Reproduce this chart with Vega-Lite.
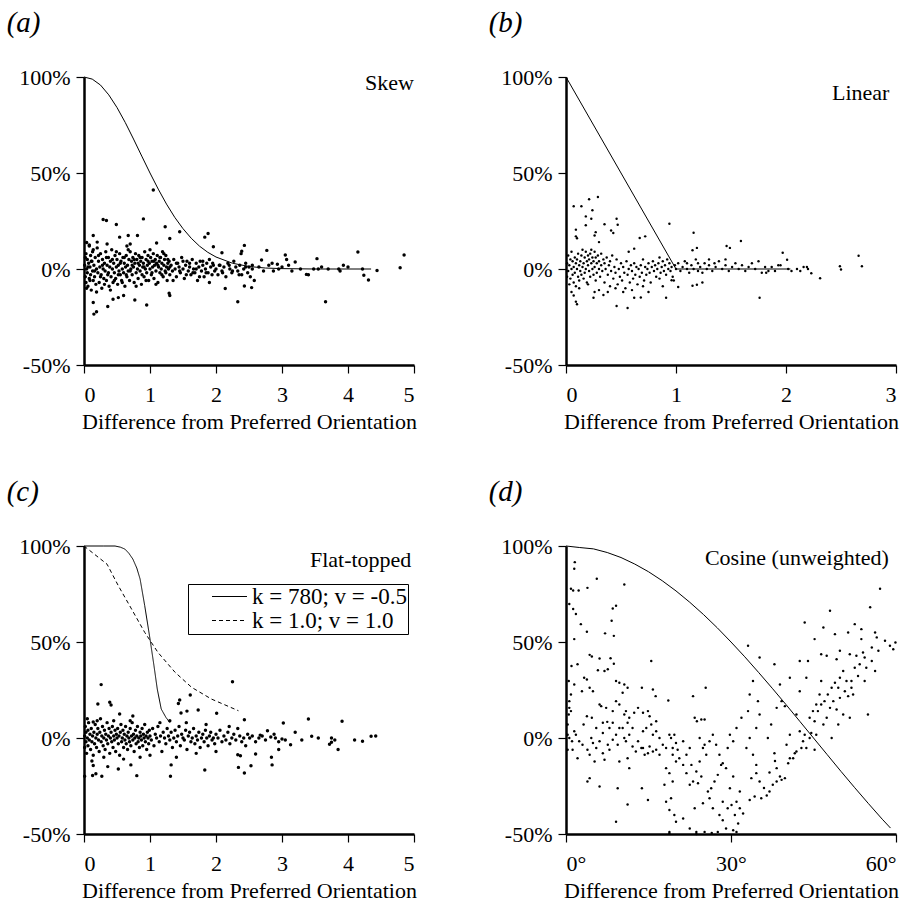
{
"$schema":"https://vega.github.io/schema/vega-lite/v6.json",
"background":"white",
"padding":{"left":6,"top":9,"right":5,"bottom":5},
"config":{
 "view":{"stroke":null},
 "font":"Liberation Serif",
 "axis":{"grid":false,"domainColor":"black","domainWidth":2.5,"tickColor":"black","tickSize":8,"tickWidth":1.2,"labelFont":"Liberation Serif","labelFontSize":22,"labelColor":"black","labelPadding":6,"titleFont":"Liberation Serif","titleFontSize":22,"titleFontWeight":"normal","titleColor":"black","titlePadding":10},
 "axisX":{"labelPadding":11,"titlePadding":6},
 "title":{"font":"Liberation Serif","fontSize":29,"fontStyle":"italic","fontWeight":"normal","anchor":"start","frame":"bounds","offset":28,"dx":-12,"color":"black"}
},
"datasets":{
"a":[{"x":0.01,"y":2},{"x":0.02,"y":-4},{"x":0.03,"y":8},{"x":0.03,"y":-7},{"x":0.04,"y":0},{"x":0.05,"y":5},{"x":0.05,"y":-2},{"x":0.06,"y":-9},{"x":0.07,"y":3},{"x":0.08,"y":-5},{"x":0.08,"y":12},{"x":0.09,"y":1},{"x":0.1,"y":-3},{"x":0.1,"y":7},{"x":0.11,"y":-11},{"x":0.12,"y":4},{"x":0.13,"y":-1},{"x":0.13,"y":9},{"x":0.14,"y":-6},{"x":0.15,"y":2},{"x":0.16,"y":-4},{"x":0.17,"y":6},{"x":0.18,"y":-8},{"x":0.19,"y":0},{"x":0.2,"y":11},{"x":0.21,"y":-2},{"x":0.22,"y":4},{"x":0.23,"y":-7},{"x":0.24,"y":1},{"x":0.25,"y":8},{"x":0.26,"y":-3},{"x":0.27,"y":-10},{"x":0.28,"y":5},{"x":0.29,"y":0},{"x":0.3,"y":-5},
{"x":0.31,"y":3},{"x":0.32,"y":-1},{"x":0.33,"y":9},{"x":0.34,"y":-6},{"x":0.35,"y":2},{"x":0.36,"y":-3},{"x":0.37,"y":6},{"x":0.38,"y":-9},{"x":0.39,"y":1},{"x":0.4,"y":4},{"x":0.41,"y":-4},{"x":0.42,"y":10},{"x":0.43,"y":0},{"x":0.44,"y":-7},{"x":0.45,"y":3},{"x":0.46,"y":-2},{"x":0.47,"y":7},{"x":0.48,"y":-5},{"x":0.49,"y":1},{"x":0.5,"y":5},{"x":0.51,"y":-8},{"x":0.52,"y":2},{"x":0.53,"y":-1},{"x":0.54,"y":8},{"x":0.55,"y":-3},{"x":0.56,"y":4},{"x":0.57,"y":-6},{"x":0.58,"y":0},{"x":0.59,"y":6},{"x":0.6,"y":-2},{"x":0.61,"y":3},{"x":0.62,"y":-9},{"x":0.63,"y":1},{"x":0.64,"y":7},{"x":0.65,"y":-4},{"x":0.66,"y":2},{"x":0.67,"y":-1},{"x":0.68,"y":5},{"x":0.69,"y":-6},{"x":0.7,"y":9},
{"x":0.71,"y":0},{"x":0.72,"y":4},{"x":0.73,"y":-3},{"x":0.74,"y":6},{"x":0.75,"y":1},{"x":0.76,"y":-7},{"x":0.77,"y":3},{"x":0.78,"y":8},{"x":0.79,"y":-2},{"x":0.8,"y":5},{"x":0.81,"y":0},{"x":0.82,"y":-5},{"x":0.83,"y":7},{"x":0.84,"y":2},{"x":0.85,"y":-1},{"x":0.86,"y":4},{"x":0.87,"y":-8},{"x":0.88,"y":6},{"x":0.89,"y":1},{"x":0.9,"y":3},{"x":0.91,"y":-4},{"x":0.92,"y":9},{"x":0.93,"y":0},{"x":0.94,"y":5},{"x":0.95,"y":-2},{"x":0.96,"y":2},{"x":0.97,"y":7},{"x":0.98,"y":-6},{"x":0.99,"y":3},{"x":1.0,"y":0},{"x":1.01,"y":6},{"x":1.02,"y":-3},{"x":1.03,"y":4},{"x":1.04,"y":1},{"x":1.05,"y":8},{"x":1.06,"y":-5},{"x":1.07,"y":2},{"x":1.08,"y":5},{"x":1.09,"y":-1},{"x":1.1,"y":3},{"x":1.11,"y":7},{"x":1.12,"y":-7},{"x":1.13,"y":1},{"x":1.14,"y":4},{"x":1.15,"y":-2},{"x":1.16,"y":6},{"x":1.17,"y":0},{"x":1.18,"y":3},{"x":1.19,"y":9},{"x":1.2,"y":-4},{"x":1.21,"y":2},{"x":1.22,"y":5},{"x":1.23,"y":-1},{"x":1.24,"y":7},{"x":1.25,"y":1},{"x":1.26,"y":-6},{"x":1.27,"y":3},{"x":1.28,"y":0},{"x":1.29,"y":4},{"x":1.3,"y":-3},
{"x":1.32,"y":2},{"x":1.34,"y":-1},{"x":1.36,"y":5},{"x":1.38,"y":0},{"x":1.4,"y":-4},{"x":1.42,"y":3},{"x":1.44,"y":1},{"x":1.46,"y":-2},{"x":1.48,"y":6},{"x":1.5,"y":0},{"x":1.52,"y":-5},{"x":1.54,"y":2},{"x":1.56,"y":4},{"x":1.58,"y":-1},{"x":1.6,"y":1},{"x":1.62,"y":-3},{"x":1.64,"y":5},{"x":1.66,"y":0},{"x":1.68,"y":-2},{"x":1.7,"y":3},{"x":1.72,"y":-6},{"x":1.74,"y":1},{"x":1.76,"y":4},{"x":1.78,"y":-1},{"x":1.8,"y":2},{"x":1.82,"y":-4},{"x":1.84,"y":0},{"x":1.86,"y":3},{"x":1.88,"y":-2},{"x":1.9,"y":5},{"x":1.92,"y":1},{"x":1.94,"y":-3},{"x":1.96,"y":2},{"x":1.98,"y":-1},{"x":2.0,"y":0},
{"x":2.03,"y":-3},{"x":2.06,"y":2},{"x":2.09,"y":-1},{"x":2.12,"y":1},{"x":2.15,"y":-4},{"x":2.18,"y":3},{"x":2.21,"y":0},{"x":2.24,"y":-2},{"x":2.27,"y":4},{"x":2.3,"y":1},{"x":2.33,"y":-1},{"x":2.36,"y":2},{"x":2.39,"y":-3},{"x":2.42,"y":0},{"x":2.45,"y":3},{"x":2.48,"y":-2},{"x":2.5,"y":1},{"x":2.52,"y":-4},{"x":2.55,"y":0},{"x":2.58,"y":-6},
{"x":2.65,"y":1},{"x":2.72,"y":-1},{"x":2.8,"y":2},{"x":2.87,"y":-1},{"x":2.95,"y":0},{"x":3.0,"y":1},{"x":3.1,"y":2},{"x":3.15,"y":-1},{"x":3.28,"y":0},{"x":3.4,"y":-3},{"x":3.48,"y":0},{"x":3.6,"y":1},{"x":3.7,"y":0},{"x":3.88,"y":-1},{"x":4.0,"y":1},
{"x":0.02,"y":6},{"x":0.04,"y":-10},{"x":0.06,"y":1},{"x":0.09,"y":-6},{"x":0.11,"y":4},{"x":0.14,"y":10},{"x":0.16,"y":-1},{"x":0.19,"y":-12},{"x":0.22,"y":7},{"x":0.25,"y":-4},{"x":0.28,"y":2},{"x":0.31,"y":-8},{"x":0.34,"y":6},{"x":0.37,"y":-2},{"x":0.4,"y":-11},{"x":0.43,"y":5},{"x":0.46,"y":-6},{"x":0.49,"y":9},{"x":0.52,"y":-3},{"x":0.55,"y":3},{"x":0.58,"y":-7},{"x":0.61,"y":6},{"x":0.64,"y":-3},{"x":0.67,"y":10},{"x":0.7,"y":-1},{"x":0.73,"y":2},{"x":0.76,"y":5},{"x":0.79,"y":-9},{"x":0.82,"y":3},{"x":0.85,"y":6},{"x":0.88,"y":-3},{"x":0.91,"y":1},{"x":0.94,"y":-6},{"x":0.97,"y":4},{"x":1.0,"y":10},{"x":1.03,"y":-2},{"x":1.06,"y":4},{"x":1.09,"y":-8},{"x":1.12,"y":2},{"x":1.15,"y":6},{"x":1.18,"y":-3},{"x":1.21,"y":8},{"x":1.24,"y":-2},{"x":1.27,"y":5},{"x":1.3,"y":1},{"x":1.35,"y":-6},{"x":1.4,"y":3},{"x":1.45,"y":-1},{"x":1.5,"y":4},{"x":1.55,"y":-3},{"x":1.6,"y":3},{"x":1.65,"y":-2},{"x":1.7,"y":0},{"x":1.75,"y":-4},{"x":1.8,"y":4},{"x":1.85,"y":-2},{"x":1.9,"y":-7},{"x":1.95,"y":3},{"x":2.05,"y":2},{"x":2.1,"y":-2},{"x":2.2,"y":2},{"x":2.25,"y":-1},{"x":2.35,"y":-3},{"x":2.45,"y":1},{"x":2.55,"y":2},
{"x":0.29,"y":25.8},{"x":0.34,"y":25.3},{"x":0.49,"y":23.2},{"x":0.9,"y":26.1},{"x":1.23,"y":22},{"x":1.45,"y":19.4},{"x":1.88,"y":18.5},{"x":1.83,"y":16.6},{"x":0.14,"y":17.5},{"x":0.67,"y":17.5},{"x":0.81,"y":17.5},{"x":0.54,"y":16.6},{"x":1.05,"y":41.2},{"x":2.43,"y":12.3},{"x":2.77,"y":9.7},{"x":4.15,"y":8.8},{"x":4.85,"y":7.3},{"x":4.79,"y":0.7},{"x":4.44,"y":-0.8},{"x":4.31,"y":-5.7},{"x":4.24,"y":-3.3},{"x":3.66,"y":-17.1},{"x":2.33,"y":-17.1},{"x":2.54,"y":-9.7},{"x":2.14,"y":-10.2},{"x":0.15,"y":-23.5},{"x":0.19,"y":-22.3},{"x":0.95,"y":-18.7},{"x":0.36,"y":-19.5},{"x":0.14,"y":-17.4},{"x":0.77,"y":-16.2},{"x":1.29,"y":-12.6},{"x":1.3,"y":-13.8},{"x":0.52,"y":-14.9},{"x":0.6,"y":-13.8},{"x":0.44,"y":-15.7},{"x":4.22,"y":0},{"x":3.86,"y":0},{"x":3.93,"y":2},{"x":3.53,"y":5.4},{"x":3.55,"y":0},{"x":3.37,"y":-2.8},{"x":3.05,"y":7.3},{"x":3.07,"y":5},{"x":3.2,"y":3.6},{"x":2.93,"y":2.5},{"x":2.85,"y":3},{"x":2.69,"y":4.7},{"x":2.39,"y":9.3},{"x":2.38,"y":8},{"x":2.09,"y":8.5},{"x":1.96,"y":11.6},{"x":2.43,"y":-8.8},{"x":0.04,"y":13.8},{"x":0.08,"y":12.5},{"x":0.2,"y":14},{"x":0.35,"y":13},{"x":0.7,"y":13},{"x":1.1,"y":13.5},{"x":1.3,"y":15.9},{"x":0.65,"y":12}],
"b":[{"x":0.01,"y":3},{"x":0.01,"y":-4},{"x":0.02,"y":7},{"x":0.02,"y":-1},{"x":0.03,"y":-8},{"x":0.03,"y":2},{"x":0.04,"y":5},{"x":0.04,"y":-5},{"x":0.05,"y":0},{"x":0.05,"y":9},{"x":0.06,"y":-3},{"x":0.06,"y":4},{"x":0.07,"y":-7},{"x":0.07,"y":1},{"x":0.08,"y":6},{"x":0.08,"y":-2},{"x":0.09,"y":3},{"x":0.09,"y":-9},{"x":0.1,"y":0},{"x":0.1,"y":5},{"x":0.11,"y":-4},{"x":0.11,"y":8},{"x":0.12,"y":2},{"x":0.12,"y":-6},{"x":0.13,"y":4},{"x":0.13,"y":-1},{"x":0.14,"y":7},{"x":0.14,"y":-3},{"x":0.15,"y":1},{"x":0.15,"y":10},{"x":0.16,"y":-5},{"x":0.16,"y":3},{"x":0.17,"y":6},{"x":0.17,"y":-2},{"x":0.18,"y":0},{"x":0.18,"y":9},{"x":0.19,"y":4},{"x":0.19,"y":-7},{"x":0.2,"y":2},{"x":0.2,"y":7},{"x":0.21,"y":-1},{"x":0.21,"y":5},{"x":0.22,"y":8},{"x":0.22,"y":-4},{"x":0.23,"y":3},{"x":0.23,"y":10},{"x":0.24,"y":0},{"x":0.24,"y":6},{"x":0.25,"y":-3},{"x":0.25,"y":4},{"x":0.26,"y":9},{"x":0.26,"y":1},{"x":0.27,"y":-6},{"x":0.27,"y":6},{"x":0.28,"y":3},{"x":0.28,"y":-2},{"x":0.29,"y":7},{"x":0.3,"y":0},{"x":0.3,"y":4},{"x":0.31,"y":-4},{"x":0.32,"y":8},{"x":0.32,"y":2},{"x":0.33,"y":-1},{"x":0.34,"y":5},{"x":0.35,"y":-7},{"x":0.35,"y":3},{"x":0.36,"y":0},{"x":0.37,"y":6},{"x":0.38,"y":-3},{"x":0.39,"y":2},{"x":0.4,"y":-9},{"x":0.4,"y":4},{"x":0.41,"y":-1},{"x":0.42,"y":7},{"x":0.43,"y":-5},{"x":0.44,"y":1},{"x":0.45,"y":-2},{"x":0.46,"y":5},{"x":0.47,"y":-8},{"x":0.48,"y":0},{"x":0.49,"y":-4},{"x":0.5,"y":3},{"x":0.51,"y":-6},{"x":0.52,"y":1},{"x":0.53,"y":-2},{"x":0.54,"y":-10},{"x":0.55,"y":4},{"x":0.56,"y":-3},{"x":0.57,"y":0},{"x":0.58,"y":-7},{"x":0.59,"y":2},{"x":0.6,"y":-1},{"x":0.61,"y":-5},{"x":0.62,"y":3},{"x":0.63,"y":-3},{"x":0.64,"y":1},{"x":0.65,"y":-8},{"x":0.66,"y":0},{"x":0.67,"y":-4},{"x":0.68,"y":2},{"x":0.69,"y":-2},{"x":0.7,"y":5},{"x":0.71,"y":-6},{"x":0.72,"y":1},{"x":0.73,"y":-3},{"x":0.74,"y":0},{"x":0.75,"y":3},{"x":0.76,"y":-2},{"x":0.77,"y":-7},{"x":0.78,"y":1},{"x":0.79,"y":4},{"x":0.8,"y":-1},{"x":0.81,"y":2},{"x":0.82,"y":-4},{"x":0.83,"y":0},{"x":0.84,"y":3},{"x":0.85,"y":6},{"x":0.86,"y":-2},{"x":0.87,"y":1},{"x":0.88,"y":4},{"x":0.89,"y":-1},{"x":0.9,"y":2},{"x":0.91,"y":-3},{"x":0.92,"y":5},{"x":0.93,"y":0},{"x":0.94,"y":3},{"x":0.95,"y":-1},{"x":0.96,"y":1},{"x":0.98,"y":-6},{"x":0.99,"y":2},{"x":1.0,"y":0},{"x":1.02,"y":3},{"x":1.04,"y":-1},{"x":1.06,"y":1},{"x":1.08,"y":4},{"x":1.1,"y":0},{"x":1.12,"y":-2},{"x":1.14,"y":2},{"x":1.16,"y":0},{"x":1.18,"y":5},{"x":1.2,"y":-1},{"x":1.22,"y":1},{"x":1.24,"y":-2},{"x":1.26,"y":3},{"x":1.28,"y":0},{"x":1.3,"y":2},{"x":1.33,"y":-1},{"x":1.36,"y":1},{"x":1.39,"y":4},{"x":1.42,"y":0},{"x":1.45,"y":2},{"x":1.48,"y":-1},{"x":1.51,"y":1},{"x":1.54,"y":3},{"x":1.57,"y":0},{"x":1.6,"y":2},{"x":1.63,"y":-1},{"x":1.66,"y":1},{"x":1.69,"y":3},{"x":1.72,"y":0},{"x":1.75,"y":4},{"x":1.87,"y":1},{"x":1.9,"y":-1},{"x":1.95,"y":2},{"x":2.1,"y":0},{"x":2.13,"y":-1},
{"x":0.05,"y":-12},{"x":0.12,"y":-10},{"x":0.2,"y":-8},{"x":0.3,"y":-11},{"x":0.38,"y":-12},{"x":0.45,"y":-10},{"x":0.52,"y":-12},{"x":0.6,"y":-11},{"x":0.7,"y":-9},{"x":0.75,"y":-12},{"x":0.85,"y":-5},{"x":0.88,"y":-9},{"x":1.1,"y":3},{"x":1.2,"y":3},{"x":1.3,"y":5},{"x":1.35,"y":3},{"x":1.45,"y":5},
{"x":0.29,"y":37.5},{"x":0.21,"y":36.3},{"x":0.07,"y":32.7},{"x":0.14,"y":32.7},{"x":0.24,"y":30.6},{"x":0.18,"y":27.4},{"x":0.23,"y":26.2},{"x":0.35,"y":23.3},{"x":0.46,"y":26.2},{"x":0.47,"y":23},{"x":0.41,"y":20.1},{"x":0.43,"y":18.8},{"x":0.09,"y":20.5},{"x":0.09,"y":17},{"x":0.1,"y":16},{"x":0.18,"y":22.8},{"x":0.26,"y":17.5},{"x":0.27,"y":19.2},{"x":0.3,"y":14},{"x":0.67,"y":16.1},{"x":0.72,"y":17},{"x":0.94,"y":23.6},{"x":0.62,"y":10.6},{"x":0.57,"y":9},{"x":1.16,"y":18.9},{"x":1.59,"y":14.6},{"x":1.46,"y":12},{"x":1.49,"y":11},{"x":1.15,"y":9.8},{"x":1.19,"y":11},{"x":1.97,"y":8.5},{"x":2.01,"y":4.8},{"x":2.66,"y":6.9},{"x":2.69,"y":1.4},{"x":2.49,"y":1.4},{"x":2.5,"y":-0.3},{"x":2.31,"y":-4.8},{"x":2.23,"y":-2.2},{"x":2.19,"y":1},{"x":2.2,"y":0},{"x":1.76,"y":-15},{"x":1.24,"y":-7},{"x":1.19,"y":-8.2},{"x":1.15,"y":-8.7},{"x":1.02,"y":-9.4},{"x":0.91,"y":-15},{"x":0.56,"y":-20.3},{"x":0.46,"y":-19.3},{"x":0.1,"y":-18.4},{"x":0.09,"y":-17},{"x":0.07,"y":-13.8},{"x":0.62,"y":-15},{"x":0.68,"y":-14.8},{"x":0.25,"y":-15},{"x":0.26,"y":-12},{"x":0.34,"y":-13.5},{"x":0.96,"y":-5.9},{"x":0.97,"y":-4},{"x":1.81,"y":1},{"x":1.84,"y":-1},{"x":1.93,"y":2},{"x":2.02,"y":0},{"x":2.05,"y":-1},{"x":2.16,"y":1},{"x":1.78,"y":-2},{"x":1.82,"y":-2}],
"c":[{"x":0.01,"y":1},{"x":0.01,"y":-5},{"x":0.02,"y":6},{"x":0.03,"y":-2},{"x":0.03,"y":3},{"x":0.04,"y":-8},{"x":0.05,"y":0},{"x":0.06,"y":4},{"x":0.06,"y":-4},{"x":0.07,"y":8},{"x":0.08,"y":-1},{"x":0.09,"y":2},{"x":0.1,"y":-6},{"x":0.11,"y":5},{"x":0.12,"y":-2},{"x":0.13,"y":1},{"x":0.14,"y":-9},{"x":0.15,"y":3},{"x":0.16,"y":-3},{"x":0.17,"y":7},{"x":0.18,"y":0},{"x":0.19,"y":-5},{"x":0.2,"y":2},{"x":0.21,"y":5},{"x":0.22,"y":-1},{"x":0.23,"y":-7},{"x":0.24,"y":3},{"x":0.25,"y":10},{"x":0.26,"y":-2},{"x":0.27,"y":1},{"x":0.28,"y":6},{"x":0.29,"y":-4},{"x":0.3,"y":0},{"x":0.31,"y":4},{"x":0.32,"y":-6},{"x":0.33,"y":2},{"x":0.34,"y":-1},{"x":0.35,"y":8},{"x":0.36,"y":-3},{"x":0.37,"y":1},{"x":0.38,"y":5},{"x":0.39,"y":-8},{"x":0.4,"y":0},{"x":0.41,"y":3},{"x":0.42,"y":-2},{"x":0.43,"y":6},{"x":0.44,"y":-5},{"x":0.45,"y":1},{"x":0.46,"y":-1},{"x":0.47,"y":4},{"x":0.48,"y":-7},{"x":0.49,"y":2},{"x":0.5,"y":0},{"x":0.51,"y":5},{"x":0.52,"y":-3},{"x":0.53,"y":1},{"x":0.54,"y":-9},{"x":0.55,"y":3},{"x":0.56,"y":7},{"x":0.57,"y":-2},{"x":0.58,"y":0},{"x":0.59,"y":4},{"x":0.6,"y":-5},{"x":0.61,"y":2},{"x":0.62,"y":-1},{"x":0.63,"y":6},{"x":0.64,"y":-3},{"x":0.65,"y":1},{"x":0.66,"y":-6},{"x":0.67,"y":3},{"x":0.68,"y":0},{"x":0.69,"y":-2},{"x":0.7,"y":5},{"x":0.71,"y":-4},{"x":0.72,"y":1},{"x":0.73,"y":8},{"x":0.74,"y":-1},{"x":0.75,"y":2},{"x":0.76,"y":-7},{"x":0.77,"y":0},{"x":0.78,"y":4},{"x":0.79,"y":-3},{"x":0.8,"y":1},{"x":0.81,"y":6},{"x":0.82,"y":-2},{"x":0.83,"y":0},{"x":0.84,"y":-5},{"x":0.85,"y":3},{"x":0.86,"y":1},{"x":0.87,"y":-1},{"x":0.88,"y":5},{"x":0.89,"y":-4},{"x":0.9,"y":2},{"x":0.91,"y":0},{"x":0.92,"y":7},{"x":0.93,"y":-2},{"x":0.94,"y":1},{"x":0.95,"y":-6},{"x":0.96,"y":3},{"x":0.97,"y":0},{"x":0.98,"y":-3},{"x":0.99,"y":4},{"x":1.0,"y":1},{"x":1.02,"y":-1},{"x":1.04,"y":5},{"x":1.06,"y":-4},{"x":1.08,"y":2},{"x":1.1,"y":0},{"x":1.12,"y":6},{"x":1.14,"y":-2},{"x":1.16,"y":1},{"x":1.18,"y":-7},{"x":1.2,"y":3},{"x":1.22,"y":0},{"x":1.24,"y":-3},{"x":1.26,"y":5},{"x":1.28,"y":1},{"x":1.3,"y":-1},{"x":1.32,"y":3},{"x":1.34,"y":-5},{"x":1.36,"y":0},{"x":1.38,"y":4},{"x":1.4,"y":-2},{"x":1.42,"y":1},{"x":1.44,"y":6},{"x":1.46,"y":-4},{"x":1.48,"y":2},{"x":1.5,"y":0},{"x":1.52,"y":-1},{"x":1.54,"y":4},{"x":1.56,"y":-6},{"x":1.58,"y":1},{"x":1.6,"y":3},{"x":1.62,"y":-2},{"x":1.64,"y":0},{"x":1.66,"y":5},{"x":1.68,"y":-3},{"x":1.7,"y":1},{"x":1.72,"y":-1},{"x":1.74,"y":3},{"x":1.76,"y":-5},{"x":1.78,"y":0},{"x":1.8,"y":2},{"x":1.82,"y":-2},{"x":1.84,"y":4},{"x":1.86,"y":0},{"x":1.88,"y":-4},{"x":1.9,"y":1},{"x":1.92,"y":3},{"x":1.94,"y":-1},{"x":1.96,"y":0},{"x":1.98,"y":-3},{"x":2.0,"y":2},{"x":2.03,"y":0},{"x":2.06,"y":4},{"x":2.09,"y":-2},{"x":2.12,"y":1},{"x":2.15,"y":-1},{"x":2.18,"y":3},{"x":2.21,"y":-3},{"x":2.24,"y":0},{"x":2.27,"y":2},{"x":2.3,"y":-1},{"x":2.33,"y":5},{"x":2.36,"y":1},{"x":2.39,"y":-2},{"x":2.42,"y":0},{"x":2.45,"y":-4},{"x":2.48,"y":2},{"x":2.51,"y":0},{"x":2.55,"y":1},{"x":2.6,"y":-2},{"x":2.65,"y":0},{"x":2.7,"y":1},{"x":2.75,"y":-1},{"x":2.9,"y":0},{"x":2.95,"y":-2},
{"x":0.05,"y":10},{"x":0.12,"y":-12},{"x":0.2,"y":9},{"x":0.3,"y":-10},{"x":0.45,"y":9},{"x":0.6,"y":-11},{"x":0.7,"y":9},{"x":0.85,"y":-10},{"x":1.0,"y":-9},{"x":1.15,"y":8},{"x":1.3,"y":9},{"x":1.4,"y":-10},{"x":1.55,"y":8},{"x":1.7,"y":-8},{"x":1.85,"y":7},{"x":2.0,"y":-7},{"x":2.2,"y":6},
{"x":0.26,"y":27.8},{"x":2.25,"y":29.3},{"x":0.39,"y":18.6},{"x":0.41,"y":17.2},{"x":0.21,"y":17.7},{"x":1.45,"y":19.8},{"x":1.43,"y":18},{"x":1.61,"y":22.4},{"x":1.73,"y":14.6},{"x":2.01,"y":12.9},{"x":1.56,"y":14},{"x":3.4,"y":9.9},{"x":3.91,"y":8.7},{"x":3.02,"y":7.8},{"x":2.43,"y":9.5},{"x":1.47,"y":13},{"x":0.14,"y":8.3},{"x":0.54,"y":12.5},{"x":0.74,"y":11.5},{"x":0.8,"y":-19.6},{"x":1.31,"y":-19.9},{"x":0.01,"y":-19.9},{"x":0.13,"y":-19.5},{"x":0.18,"y":-18.6},{"x":0.27,"y":-19.9},{"x":0.14,"y":-14.3},{"x":0.36,"y":-14.9},{"x":0.52,"y":-16.1},{"x":0.71,"y":-14},{"x":1.32,"y":-14},{"x":1.83,"y":-16.7},{"x":2.34,"y":-15.3},{"x":2.43,"y":-18.2},{"x":2.53,"y":-14.4},{"x":2.85,"y":-14},{"x":2.84,"y":-10},{"x":2.6,"y":-8.3},{"x":2.33,"y":-8.7},{"x":2.37,"y":-9.3},{"x":2.95,"y":-6},{"x":3.13,"y":-3.5},{"x":3.85,"y":-6},{"x":3.72,"y":-3.3},{"x":3.75,"y":-2.2},{"x":4.1,"y":-1},{"x":4.22,"y":-1.7},{"x":4.35,"y":0.9},{"x":4.42,"y":1},{"x":3.2,"y":3},{"x":3.3,"y":-1},{"x":3.45,"y":0.9},{"x":3.55,"y":0},{"x":3.75,"y":0},{"x":3.8,"y":-1},{"x":2.88,"y":2},{"x":2.83,"y":0.5},{"x":2.78,"y":3.8},{"x":2.67,"y":1.5},{"x":3.0,"y":-0.5},{"x":3.05,"y":-1}],
"d":[{"x":1.6,"y":91.6},{"x":1.5,"y":88.1},{"x":0.9,"y":77.7},{"x":1.3,"y":76.8},{"x":2.3,"y":76.8},{"x":3.9,"y":78.2},{"x":5.6,"y":82.9},{"x":10.6,"y":79.9},{"x":0.6,"y":69.8},{"x":1.3,"y":67.2},{"x":1.8,"y":64.6},{"x":2.7,"y":59.3},{"x":3.8,"y":55.3},{"x":1.5,"y":51.5},{"x":8.3,"y":61.1},{"x":8.5,"y":67.5},{"x":9.1,"y":68.9},{"x":8.7,"y":53.2},{"x":7.1,"y":54.5},{"x":4.3,"y":43.3},{"x":4.7,"y":42.4},{"x":6.1,"y":41.4},{"x":8.1,"y":41.5},{"x":8.7,"y":38.7},{"x":1.0,"y":37.5},{"x":2.1,"y":38.4},{"x":7.6,"y":35.8},{"x":7.0,"y":34.9},{"x":5.8,"y":35.3},{"x":15.5,"y":40.1},{"x":0.5,"y":29.7},{"x":1.5,"y":27.9},{"x":2.9,"y":24.4},{"x":4.3,"y":26.2},{"x":4.9,"y":24.4},{"x":0.9,"y":22.7},{"x":0.6,"y":19.2},{"x":3.3,"y":31.4},{"x":3.8,"y":30.5},{"x":9.1,"y":29.7},{"x":9.7,"y":28.8},{"x":10.6,"y":27.9},{"x":11.2,"y":26.2},{"x":10.3,"y":23.6},{"x":6.1,"y":17.5},{"x":6.4,"y":16.6},{"x":7.3,"y":15.7},{"x":8.5,"y":14},{"x":9.1,"y":19.2},{"x":9.7,"y":17.5},{"x":10.9,"y":14},{"x":10.6,"y":12.2},{"x":13.8,"y":26.2},{"x":15.8,"y":25.3},{"x":16.3,"y":21.8},{"x":14.9,"y":14},{"x":15.2,"y":11.3},{"x":16.4,"y":8.7},{"x":0.9,"y":14},{"x":0.5,"y":12.2},{"x":0.3,"y":7},{"x":1.5,"y":3.5},{"x":3.2,"y":7},{"x":3.8,"y":11.3},{"x":4.7,"y":10.5},{"x":5.5,"y":5.2},{"x":6.7,"y":7.9},{"x":7.5,"y":8.4},{"x":8.5,"y":7.9},{"x":9.7,"y":5.2},{"x":10.3,"y":5.2},{"x":11.2,"y":7.9},{"x":12.1,"y":5.2},{"x":14,"y":3.5},{"x":14.6,"y":5.2},{"x":15.8,"y":1.7},{"x":0.6,"y":0},{"x":1.1,"y":-1.7},{"x":0.3,"y":-6.1},{"x":1.2,"y":-6.1},{"x":2.1,"y":-10.5},{"x":3,"y":-3.5},{"x":3.9,"y":-6.1},{"x":4.3,"y":-8.7},{"x":4.9,"y":-2.6},{"x":5.2,"y":-12.2},{"x":6.7,"y":-7.9},{"x":7,"y":-11.3},{"x":7.9,"y":-6.1},{"x":9.4,"y":-3.5},{"x":9.7,"y":-12.2},{"x":10.9,"y":-1.7},{"x":11.2,"y":-10.5},{"x":11.5,"y":-15.7},{"x":12.7,"y":-7},{"x":13.7,"y":-5.2},{"x":14.3,"y":-8.7},{"x":15.2,"y":-4.4},{"x":15.8,"y":-7},{"x":16.4,"y":-6.1},{"x":17,"y":-8.7},{"x":3.9,"y":-22.7},{"x":4.3,"y":-20.9},{"x":6.1,"y":-25.3},{"x":9.4,"y":-26.2},{"x":11.2,"y":-34.6},{"x":9.1,"y":-43.6},{"x":13.8,"y":-26.2},{"x":14.9,"y":-32.3},
{"x":18.6,"y":19.5},{"x":18.8,"y":1.7},{"x":19.1,"y":0},{"x":19.7,"y":1.7},{"x":20,"y":-2.6},{"x":19.4,"y":-5.2},{"x":20.3,"y":-6.1},{"x":18.2,"y":-15.7},{"x":18.8,"y":-18.3},{"x":17.9,"y":-24.4},{"x":19.4,"y":-22.7},{"x":19.1,"y":-31.4},{"x":18.2,"y":-33.2},{"x":18.8,"y":-37.5},{"x":19.7,"y":-40.1},{"x":20,"y":-43.6},{"x":18.8,"y":-48.9},{"x":21.3,"y":-41.9},{"x":22.5,"y":-47.1},{"x":23.4,"y":-36.6},{"x":23.7,"y":-48.9},{"x":25.2,"y":-48.9},{"x":21.3,"y":-1.7},{"x":21.9,"y":-8.7},{"x":22.5,"y":-5.2},{"x":23.1,"y":21.8},{"x":23.4,"y":10.5},{"x":23.8,"y":8.7},{"x":24.6,"y":9.6},{"x":25.2,"y":9.6},{"x":25.4,"y":26.2},{"x":24.3,"y":0},{"x":24.9,"y":-5.2},{"x":25.5,"y":-8.7},{"x":22.8,"y":-14},{"x":23.7,"y":-17.5},{"x":24.6,"y":-20.1},{"x":24,"y":-23.6},{"x":25.8,"y":-27.9},{"x":26.1,"y":-31.4},{"x":24.9,"y":-34},{"x":26.7,"y":-36.6},{"x":27.9,"y":-40.1},{"x":28.5,"y":-42.8},{"x":27.6,"y":-48.9},{"x":29.1,"y":-47.1},{"x":30.4,"y":-48},{"x":31.3,"y":-44.5},{"x":32.2,"y":-39.3},{"x":31.6,"y":-27.9},{"x":29.8,"y":-26.2},{"x":30.4,"y":-20.1},{"x":29.1,"y":-15.7},{"x":28.5,"y":-13.1},{"x":29.4,"y":-5.2},{"x":30.4,"y":-1.7},{"x":29.8,"y":1.7},{"x":31,"y":5.2},{"x":31.9,"y":10.5},{"x":33.1,"y":14},{"x":33.4,"y":22.7},{"x":33.1,"y":48},{"x":35.2,"y":41.9},{"x":37.9,"y":38.4},{"x":34,"y":29.7},{"x":34.9,"y":19.2},{"x":35.2,"y":12.2},{"x":34.6,"y":5.2},{"x":33.4,"y":0},{"x":32.8,"y":-5.2},{"x":34,"y":-8.7},{"x":34.6,"y":-14},{"x":33.7,"y":-20.9},{"x":34.6,"y":-18.3},{"x":35.2,"y":-22.7},{"x":33.4,"y":-32.3},{"x":34.3,"y":-30.5},{"x":35.5,"y":-31.4},{"x":37,"y":-27.9},{"x":37.6,"y":-24.4},{"x":38.3,"y":-22.7},{"x":38.9,"y":-20.1},{"x":38.3,"y":-15.7},{"x":37.9,"y":-7.9},{"x":36.7,"y":0},{"x":37.3,"y":7},{"x":38.3,"y":15.7},{"x":39.2,"y":19.2},{"x":39.8,"y":16.6},{"x":40.7,"y":1.7},{"x":40.1,"y":-3.5},{"x":40.7,"y":-10.5},{"x":41.3,"y":-10.5},{"x":41.6,"y":-7.9},{"x":40.4,"y":-13.1},{"x":39.2,"y":-21.8},{"x":39.8,"y":-20.9},{"x":38.9,"y":27.9},{"x":40.7,"y":31.4},{"x":42.5,"y":40.1},{"x":43.4,"y":60.2},{"x":44,"y":40.1},{"x":43.7,"y":31.4},{"x":42.5,"y":24.4},{"x":41.9,"y":12.2},{"x":42.5,"y":3.5},{"x":43.1,"y":-1.7},{"x":43.7,"y":-5.2},{"x":44.3,"y":0},{"x":44.6,"y":2.6},{"x":45.2,"y":-6.1},{"x":45.5,"y":1.7},{"x":45.2,"y":8.7},{"x":45.8,"y":14},{"x":46.1,"y":22.7},{"x":46.4,"y":29.7},{"x":45.2,"y":51.5},{"x":46.8,"y":57.6},{"x":46.4,"y":43.6},{"x":47.4,"y":42.8},{"x":46.8,"y":7},{"x":47.4,"y":10.5},{"x":48,"y":15.7},{"x":48.6,"y":19.2},{"x":48,"y":66.3},{"x":48.9,"y":54.1},{"x":49.2,"y":41},{"x":49.8,"y":45.4},{"x":49.5,"y":26.2},{"x":49.8,"y":20.9},{"x":50.4,"y":34.9},{"x":51,"y":29.7},{"x":50.4,"y":12.2},{"x":49.2,"y":14.8},{"x":48.3,"y":0},{"x":49.5,"y":7},{"x":51.3,"y":55},{"x":51.6,"y":43.6},{"x":52.5,"y":59.3},{"x":52.8,"y":42.8},{"x":51.9,"y":26.2},{"x":51.6,"y":10.5},{"x":52.2,"y":22.7},{"x":53.1,"y":32.3},{"x":53.7,"y":51.5},{"x":53.7,"y":56.7},{"x":54.3,"y":41.9},{"x":54.3,"y":29.7},{"x":54.9,"y":12.2},{"x":55.3,"y":68.1},{"x":55.6,"y":40.1},{"x":56.2,"y":55},{"x":56.5,"y":52.4},{"x":56.2,"y":34.9},{"x":56.8,"y":45.4},{"x":57.1,"y":77.7},{"x":58,"y":50.6},{"x":58.9,"y":48},{"x":59.5,"y":46.2},{"x":59.9,"y":49.7},
{"x":41.9,"y":-7},{"x":42.8,"y":-5.2},{"x":43.4,"y":1.7},{"x":44.3,"y":10.5},{"x":44.9,"y":14},{"x":45.5,"y":17.5},{"x":46.4,"y":17.5},{"x":47,"y":19.2},{"x":47.6,"y":22.7},{"x":48.3,"y":26.2},{"x":48.9,"y":28.8},{"x":49.8,"y":31.4},{"x":50.7,"y":24.4},{"x":51.3,"y":21.8},{"x":51.9,"y":29.7},{"x":52.5,"y":36.6},{"x":53.4,"y":38.4},{"x":54,"y":44.5},{"x":54.6,"y":36.6},{"x":55.6,"y":47.1},{"x":17.6,"y":-3.5},{"x":18.2,"y":-5.2},{"x":19.4,"y":-8.7},{"x":20,"y":-12.2},{"x":20.6,"y":-10.5},{"x":21.3,"y":-14},{"x":21.9,"y":-18.3},{"x":22.5,"y":-24.4},{"x":23.1,"y":-22.7},{"x":24.3,"y":-12.2},{"x":25.2,"y":-3.5},{"x":26.1,"y":-1.7},{"x":26.7,"y":1.7},{"x":27.3,"y":-3.5},{"x":27.9,"y":-8.7},{"x":28.2,"y":-14},{"x":27.6,"y":-19.2},{"x":27,"y":-22.7},{"x":26.4,"y":-26.2},{"x":28.5,"y":-33.2},{"x":29.4,"y":-36.6},{"x":30.1,"y":-34.9},{"x":31,"y":-33.2},{"x":31.6,"y":-36.6},{"x":30.7,"y":-40.1},{"x":14,"y":-5.2},{"x":14.9,"y":-7.9},{"x":13.1,"y":-1.7},{"x":12.1,"y":-4.4},{"x":10.6,"y":0},{"x":11.5,"y":1.7},{"x":9.1,"y":1.7},{"x":8.5,"y":-0.9},{"x":7.6,"y":-3.5},{"x":6.1,"y":-1.7},{"x":5.5,"y":-5.2},{"x":4.6,"y":0},{"x":6.7,"y":2.6},{"x":7.9,"y":5.2},{"x":11.5,"y":10.5},{"x":12.4,"y":13.1},{"x":13.1,"y":15.7},{"x":14,"y":13.1},{"x":15.5,"y":7},{"x":16.4,"y":3.5},{"x":17,"y":0},{"x":2.4,"y":-1.7},{"x":1.8,"y":1.7},{"x":0.3,"y":1.7},{"x":0.6,"y":15.7},{"x":18.8,"y":-49.7},{"x":23.7,"y":-50},{"x":26.5,"y":-49.5},{"x":31,"y":-49},{"x":36,"y":-26},{"x":36.5,"y":-30},{"x":38,"y":-12},{"x":37,"y":-18}],
"ca":[{"x":0,"y":100},{"x":0.125,"y":98.9},{"x":0.25,"y":95.8},{"x":0.375,"y":90.7},{"x":0.5,"y":84.1},{"x":0.625,"y":76.3},{"x":0.75,"y":67.7},{"x":0.875,"y":58.8},{"x":1,"y":50},{"x":1.125,"y":41.6},{"x":1.25,"y":33.8},{"x":1.375,"y":26.9},{"x":1.5,"y":21},{"x":1.625,"y":16},{"x":1.75,"y":11.9},{"x":1.875,"y":8.7},{"x":2,"y":6.25},{"x":2.25,"y":3},{"x":2.5,"y":1.3},{"x":2.75,"y":0.5},{"x":3,"y":0.2},{"x":3.5,"y":0},{"x":4.35,"y":0}],
"cb":[{"x":0,"y":100},{"x":1,"y":0},{"x":2.04,"y":0}],
"cc":[{"s":"k = 780; v = -0.5","x":0,"y":100},{"s":"k = 780; v = -0.5","x":0.3,"y":100},{"s":"k = 780; v = -0.5","x":0.47,"y":100},{"s":"k = 780; v = -0.5","x":0.55,"y":99.4},{"s":"k = 780; v = -0.5","x":0.62,"y":98.4},{"s":"k = 780; v = -0.5","x":0.68,"y":96.2},{"s":"k = 780; v = -0.5","x":0.74,"y":93.2},{"s":"k = 780; v = -0.5","x":0.8,"y":88.5},{"s":"k = 780; v = -0.5","x":0.85,"y":82.8},{"s":"k = 780; v = -0.5","x":0.92,"y":68.9},{"s":"k = 780; v = -0.5","x":1.0,"y":51.6},{"s":"k = 780; v = -0.5","x":1.06,"y":37.7},{"s":"k = 780; v = -0.5","x":1.11,"y":25.5},{"s":"k = 780; v = -0.5","x":1.17,"y":15.1},{"s":"k = 780; v = -0.5","x":1.24,"y":10.8},{"s":"k = 780; v = -0.5","x":1.3,"y":8},
{"s":"k = 1.0; v = 1.0","x":0,"y":100},{"s":"k = 1.0; v = 1.0","x":0.35,"y":90.5},{"s":"k = 1.0; v = 1.0","x":0.52,"y":79.3},{"s":"k = 1.0; v = 1.0","x":0.72,"y":67.2},{"s":"k = 1.0; v = 1.0","x":0.92,"y":55},{"s":"k = 1.0; v = 1.0","x":1.12,"y":44.6},{"s":"k = 1.0; v = 1.0","x":1.38,"y":34.2},{"s":"k = 1.0; v = 1.0","x":1.63,"y":26.4},{"s":"k = 1.0; v = 1.0","x":1.93,"y":20.3},{"s":"k = 1.0; v = 1.0","x":2.34,"y":14.2}],
"cd":[{"x":0,"y":100},{"x":2.5,"y":99.2},{"x":5,"y":98.5},{"x":7.5,"y":96.6},{"x":10,"y":94},{"x":12.5,"y":90.6},{"x":15,"y":86.6},{"x":17.5,"y":81.9},{"x":20,"y":76.6},{"x":22.5,"y":70.7},{"x":25,"y":64.3},{"x":27.5,"y":57.4},{"x":30,"y":50},{"x":32.5,"y":42.3},{"x":35,"y":34.2},{"x":37.5,"y":25.9},{"x":40,"y":17.4},{"x":42.5,"y":8.7},{"x":45,"y":0},{"x":47.5,"y":-8.7},{"x":50,"y":-17.4},{"x":52.5,"y":-25.9},{"x":55,"y":-34.2},{"x":57.5,"y":-42.3},{"x":59,"y":-46.9}]
},
"spacing":46,
"vconcat":[
{"hconcat":[
 {"title":{"text":"(a)"},"width":330,"height":288,
  "encoding":{"x":{"field":"x","type":"quantitative","scale":{"domain":[0,5],"nice":false},"axis":{"values":[0,1,2,3,4,5],"title":"Difference from Preferred Orientation"}},
              "y":{"field":"y","type":"quantitative","scale":{"domain":[-50,100],"nice":false},"axis":{"values":[-50,0,50,100],"labelExpr":"datum.value + '%'","title":null}}},
  "layer":[
   {"data":{"name":"a"},"mark":{"type":"circle","size":12,"color":"black","opacity":1}},
   {"data":{"name":"ca"},"mark":{"type":"line","color":"black","strokeWidth":1}},
   {"data":{"values":[{"x":5,"y":97,"t":"Skew"}]},"mark":{"type":"text","align":"right","baseline":"middle","fontSize":22,"font":"Liberation Serif","color":"black"},"encoding":{"text":{"field":"t"}}}
  ]},
 {"title":{"text":"(b)"},"width":330,"height":288,
  "encoding":{"x":{"field":"x","type":"quantitative","scale":{"domain":[0,3],"nice":false},"axis":{"values":[0,1,2,3],"title":"Difference from Preferred Orientation"}},
              "y":{"field":"y","type":"quantitative","scale":{"domain":[-50,100],"nice":false},"axis":{"values":[-50,0,50,100],"labelExpr":"datum.value + '%'","title":null}}},
  "layer":[
   {"data":{"name":"b"},"mark":{"type":"circle","size":6,"color":"black","opacity":1}},
   {"data":{"name":"cb"},"mark":{"type":"line","color":"black","strokeWidth":1}},
   {"data":{"values":[{"x":2.94,"y":91.5,"t":"Linear"}]},"mark":{"type":"text","align":"right","baseline":"middle","fontSize":22,"font":"Liberation Serif","color":"black"},"encoding":{"text":{"field":"t"}}}
  ]}
],"spacing":71},
{"hconcat":[
 {"title":{"text":"(c)"},"width":330,"height":288,
  "encoding":{"x":{"field":"x","type":"quantitative","scale":{"domain":[0,5],"nice":false},"axis":{"values":[0,1,2,3,4,5],"title":"Difference from Preferred Orientation"}},
              "y":{"field":"y","type":"quantitative","scale":{"domain":[-50,100],"nice":false},"axis":{"values":[-50,0,50,100],"labelExpr":"datum.value + '%'","title":null}}},
  "layer":[
   {"data":{"name":"c"},"mark":{"type":"circle","size":12,"color":"black","opacity":1}},
   {"data":{"name":"cc"},"mark":{"type":"line","color":"black","strokeWidth":1},
    "encoding":{"strokeDash":{"field":"s","type":"nominal","scale":{"domain":["k = 780; v = -0.5","k = 1.0; v = 1.0"],"range":[[1,0],[4,3]]},
      "legend":{"title":null,"orient":"none","legendX":104,"legendY":507,"strokeColor":"black","fillColor":"white","padding":1,"symbolType":"M-2,0H2","symbolSize":306,"symbolStrokeWidth":1,"symbolStrokeColor":"black","symbolOffset":29,"labelFontSize":23,"labelFont":"Liberation Serif","labelColor":"black","labelOffset":11,"labelLimit":300,"rowPadding":-4}}}},
   {"data":{"values":[{"x":4.96,"y":92.7,"t":"Flat-topped"}]},"mark":{"type":"text","align":"right","baseline":"middle","fontSize":22,"font":"Liberation Serif","color":"black"},"encoding":{"text":{"field":"t"}}}
  ]},
 {"title":{"text":"(d)"},"width":330,"height":288,
  "encoding":{"x":{"field":"x","type":"quantitative","scale":{"domain":[0,60],"nice":false},"axis":{"values":[0,30,60],"labelExpr":"datum.value + '°'","title":"Difference from Preferred Orientation"}},
              "y":{"field":"y","type":"quantitative","scale":{"domain":[-50,100],"nice":false},"axis":{"values":[-50,0,50,100],"labelExpr":"datum.value + '%'","title":null}}},
  "layer":[
   {"data":{"name":"d"},"mark":{"type":"circle","size":6,"color":"black","opacity":1}},
   {"data":{"name":"cd"},"mark":{"type":"line","color":"black","strokeWidth":1}},
   {"data":{"values":[{"x":58.7,"y":94,"t":"Cosine (unweighted)"}]},"mark":{"type":"text","align":"right","baseline":"middle","fontSize":22,"font":"Liberation Serif","color":"black"},"encoding":{"text":{"field":"t"}}}
  ]}
],"spacing":71}
]
}
